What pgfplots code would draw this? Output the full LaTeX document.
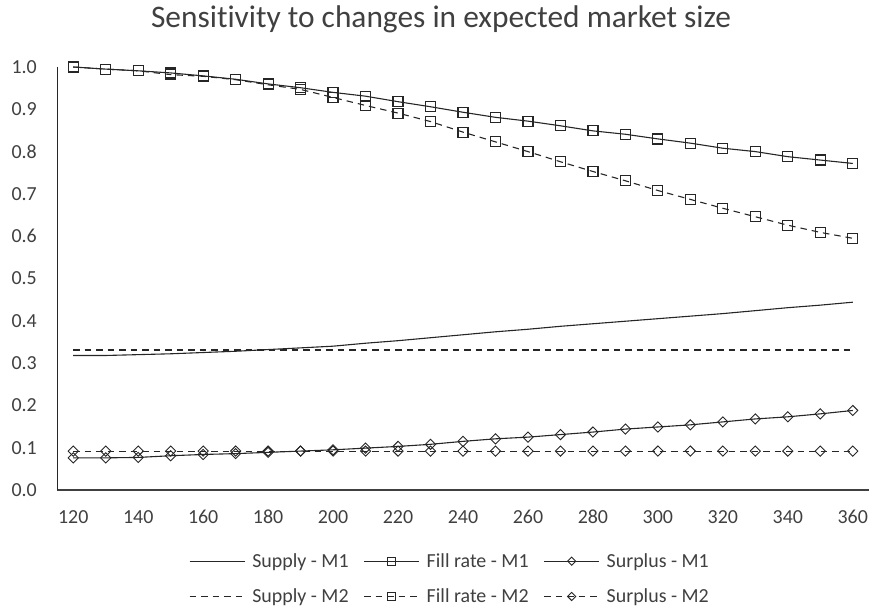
\documentclass[border=0pt]{standalone}
\usepackage{pgfplots}
\pgfplotsset{compat=1.18}
\usepackage{fontspec}
\setmainfont{Carlito}[Ligatures=NoCommon]
\definecolor{txt}{HTML}{404040}
\pgfplotstableread{
x    sm1   fm1   um1   sm2   fm2   um2
120 0.318 1.000 0.076 0.331 1.000 0.092
130 0.318 0.995 0.076 0.331 0.995 0.092
140 0.320 0.991 0.077 0.331 0.991 0.092
150 0.322 0.986 0.081 0.331 0.982 0.092
160 0.325 0.979 0.084 0.331 0.978 0.092
170 0.328 0.971 0.086 0.331 0.970 0.092
180 0.332 0.960 0.089 0.331 0.958 0.092
190 0.336 0.951 0.092 0.331 0.947 0.092
200 0.340 0.940 0.095 0.331 0.928 0.092
210 0.347 0.931 0.099 0.331 0.909 0.092
220 0.353 0.918 0.103 0.331 0.891 0.092
230 0.360 0.906 0.108 0.331 0.871 0.092
240 0.367 0.893 0.115 0.331 0.846 0.092
250 0.374 0.881 0.121 0.331 0.823 0.092
260 0.380 0.872 0.125 0.331 0.800 0.092
270 0.387 0.861 0.131 0.331 0.776 0.092
280 0.393 0.849 0.137 0.331 0.753 0.092
290 0.399 0.841 0.144 0.331 0.731 0.092
300 0.405 0.830 0.149 0.331 0.708 0.092
310 0.411 0.820 0.154 0.331 0.687 0.092
320 0.417 0.808 0.161 0.331 0.666 0.092
330 0.424 0.800 0.168 0.331 0.646 0.092
340 0.431 0.788 0.173 0.331 0.626 0.092
350 0.437 0.780 0.180 0.331 0.609 0.092
360 0.444 0.772 0.188 0.331 0.595 0.092
}\data
\begin{document}
\begin{tikzpicture}
\useasboundingbox (-57bp,-123bp) rectangle (817bp,490bp);
\node[anchor=base, font=\fontsize{31.5}{38}\selectfont, text=txt, inner sep=0pt] at (384bp,462bp) {Sensitivity to changes in expected market size};
\begin{axis}[
  scale only axis,
  width=812bp, height=423bp,
  xmin=115, xmax=365, ymin=0, ymax=1,
  axis x line=bottom, axis y line=left,
  x axis line style={-, black!75, line width=1.3bp},
  y axis line style={-, black!85, line width=0.9bp},
  xtick={120,140,...,360},
  ytick={0,0.1,...,1.0},
  major tick length=0pt,
  /pgf/number format/assume math mode=true,
  ticklabel style={font=\fontsize{20}{24}\selectfont, text=txt, inner sep=0pt},
  y tick label style={/pgf/number format/fixed, /pgf/number format/fixed zerofill, /pgf/number format/precision=1, anchor=east, xshift=-20bp},
  x tick label style={anchor=north, text height=13bp, text depth=0pt, yshift=-20bp},
  legend columns=3,
  legend style={draw=none, at={(0.484,-0.21)}, anchor=center,
    font=\fontsize{20}{24}\selectfont, text=txt,
    /tikz/every odd column/.append style={column sep=5bp},
    /tikz/every even column/.append style={column sep=13bp},
    row sep=16bp, inner sep=0pt},
  legend image code/.code={\draw[mark repeat=2,mark phase=2,#1, every mark/.append style={scale=0.8}] plot coordinates {(0bp,0bp) (27.5bp,0bp) (55bp,0bp)};},
  every axis plot/.append style={line width=1.1bp, black!85},
  m2/.style={dash pattern=on 6.5bp off 5bp},
  sq/.style={mark=square, mark size=5bp, mark options={solid, line width=1.2bp}},
  dm/.style={mark=square, mark size=3.6bp, mark options={solid, rotate=45, line width=0.9bp}},
]
\addplot[no marks, black!85, line width=1.1bp] table[x=x,y=sm1]{\data};
\addlegendentry{Supply - M1}
\addplot[sq] table[x=x,y=fm1]{\data};
\addlegendentry{Fill rate - M1}
\addplot[dm] table[x=x,y=um1]{\data};
\addlegendentry{Surplus - M1}
\addplot[no marks, m2] table[x=x,y=sm2]{\data};
\addlegendentry{Supply - M2}
\addplot[sq, m2] table[x=x,y=fm2]{\data};
\addlegendentry{Fill rate - M2}
\addplot[dm, m2] table[x=x,y=um2]{\data};
\addlegendentry{Surplus - M2}
\end{axis}
\end{tikzpicture}
\end{document}
